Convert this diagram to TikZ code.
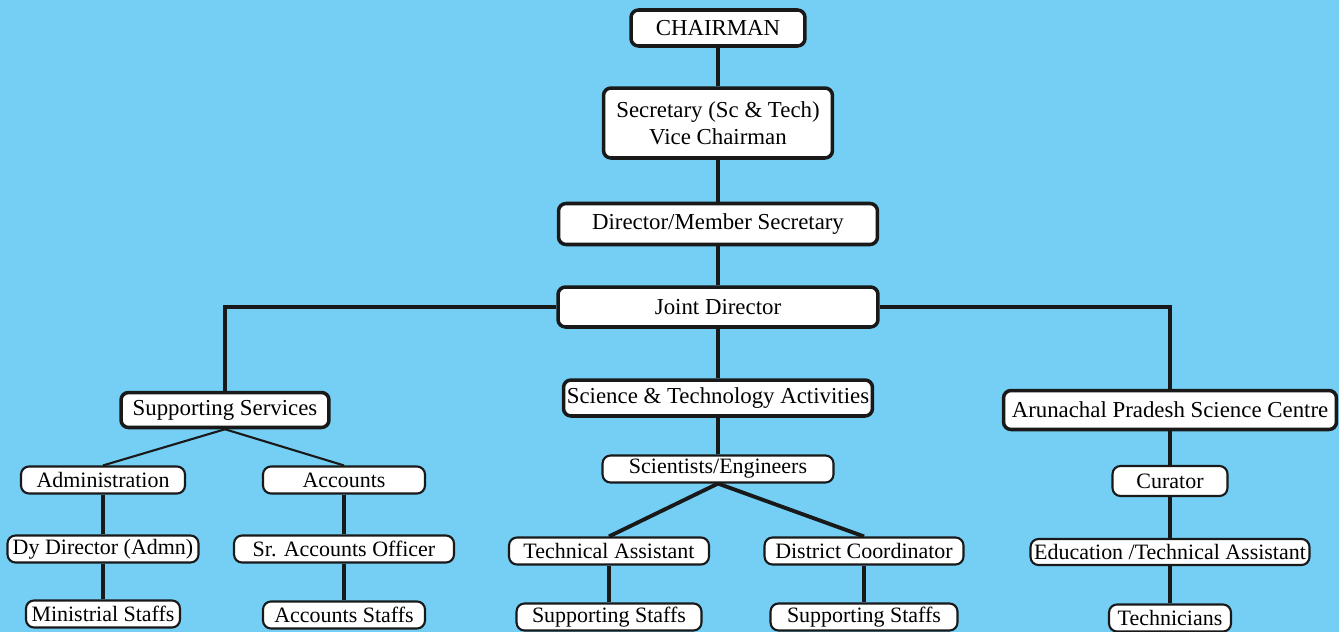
\documentclass[tikz,border=0pt]{standalone}
\usepackage{fontspec}
\setmainfont{Liberation Serif}
\usetikzlibrary{positioning}
\definecolor{skyback}{RGB}{117,207,245}
\tikzstyle{headbox}=[rectangle,draw=black!90,fill=white,line width=2pt,rounded corners=0.15cm,minimum height=0.72cm,inner xsep=0.5mm,font=\fontsize{13}{15.5}\selectfont]
\tikzstyle{subbox}=[rectangle,draw=black!90,fill=white,line width=1.2pt,rounded corners=0.16cm,minimum height=0.54cm,inner xsep=0.2mm,inner ysep=0.5mm,font=\fontsize{12.5}{14}\selectfont]
\tikzstyle{link}=[draw=black!90,line width=2.2pt]
\tikzstyle{thinlink}=[draw=black!90,line width=1.2pt]

\begin{document}
\begin{tikzpicture}[x=0.02cm,y=-0.02cm]
    \fill[skyback] (0,0) rectangle (1339,632);
    \useasboundingbox (0,0) rectangle (1339,632);

    \node[headbox,minimum width=3.48cm] (chair) at (718,28) {CHAIRMAN};
    \node[headbox,minimum width=4.58cm,minimum height=1.4cm,align=center] (secy) at (718,123) {Secretary (Sc \& Tech)\\Vice Chairman};
    \node[headbox,minimum width=6.38cm,minimum height=0.82cm] (dir) at (718,224) {Director/Member Secretary};
    \node[headbox,minimum width=6.4cm,minimum height=0.8cm] (joint) at (718,307) {Joint Director};

    \node[headbox,minimum width=4.16cm,minimum height=0.7cm] (supp) at (225,410) {Supporting Services};
    \node[headbox,minimum width=6.18cm] (sandt) at (718,398) {Science \& Technology Activities};
    \node[headbox,minimum width=6.66cm,minimum height=0.78cm] (apsc) at (1170,410) {Arunachal Pradesh Science Centre};

    \node[subbox,minimum width=3.28cm] (admin) at (103,480) {Administration};
    \node[subbox,minimum width=3.82cm] (dydir) at (103,549) {Dy Director (Admn)};
    \node[subbox,minimum width=3.08cm] (minist) at (103,614) {Ministrial Staffs};

    \node[subbox,minimum width=3.24cm] (accts) at (344,480) {Accounts};
    \node[subbox,minimum width=4.4cm] (sraccts) at (344,549) {Sr. Accounts Officer};
    \node[subbox,minimum width=3.24cm] (acctstaff) at (344,615) {Accounts Staffs};

    \node[subbox,minimum width=4.62cm] (scieng) at (718,469) {Scientists/Engineers};
    \node[subbox,minimum width=4.0cm] (techasst) at (609,551) {Technical Assistant};
    \node[subbox,minimum width=3.7cm] (suppstaffa) at (609,617) {Supporting Staffs};
    \node[subbox,minimum width=3.98cm] (distcoord) at (864,551) {District Coordinator};
    \node[subbox,minimum width=3.74cm] (suppstaffb) at (864,617) {Supporting Staffs};

    \node[subbox,minimum width=2.3cm,minimum height=0.6cm] (curator) at (1170,481) {Curator};
    \node[subbox,minimum width=5.58cm,minimum height=0.52cm] (eduasst) at (1170,552) {Education /Technical Assistant};
    \node[subbox,minimum width=2.44cm] (techn) at (1170,618) {Technicians};

    \draw[link] (chair) -- (secy);
    \draw[link] (secy) -- (dir);
    \draw[link] (dir) -- (joint);
    \draw[link] (joint) -- (sandt);
    \draw[link] (joint.west) -| (supp.north);
    \draw[link] (joint.east) -| (apsc.north);

    \draw[thinlink] (supp.south) -- (admin.north);
    \draw[thinlink] (supp.south) -- (accts.north);
    \draw[link] (admin) -- (dydir);
    \draw[link] (dydir) -- (minist);
    \draw[link] (accts) -- (sraccts);
    \draw[link] (sraccts) -- (acctstaff);

    \draw[link] (sandt) -- (scieng);
    \draw[link] (scieng.south) -- (techasst.north);
    \draw[link] (scieng.south) -- (distcoord.north);
    \draw[link] (techasst) -- (suppstaffa);
    \draw[link] (distcoord) -- (suppstaffb);

    \draw[link] (apsc) -- (curator);
    \draw[link] (curator) -- (eduasst);
    \draw[link] (eduasst) -- (techn);
\end{tikzpicture}
\end{document}
